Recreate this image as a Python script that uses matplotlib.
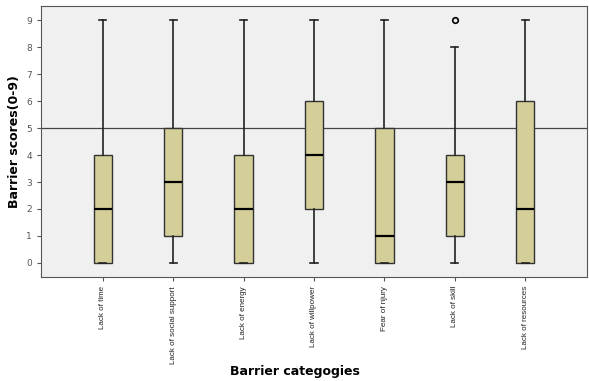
import matplotlib
matplotlib.use("Agg")
import matplotlib.pyplot as plt

categories = ["Lack of time", "Lack of social support", "Lack of energy",
              "Lack of willpower", "Fear of njury", "Lack of skill",
              "Lack of resources"]
whislo = [0, 0, 0, 0, 0, 0, 0]
q1 = [0, 1, 0, 2, 0, 1, 0]
med = [2, 3, 2, 4, 1, 3, 2]
q3 = [4, 5, 4, 6, 5, 4, 6]
whishi = [9, 9, 9, 9, 9, 8, 9]
fliers = [[], [], [], [], [], [9], []]
ref_line = 5

stats = []
for i, c in enumerate(categories):
    stats.append(dict(label=c, whislo=whislo[i], q1=q1[i], med=med[i],
                      q3=q3[i], whishi=whishi[i], fliers=fliers[i]))

fig = plt.figure(figsize=(5.89, 3.81), dpi=100)
ax = fig.add_axes([0.0696, 0.273, 0.927, 0.711])
ax.set_facecolor("#f0f0f0")

ax.bxp(stats, positions=range(1, 8), widths=0.26, patch_artist=True,
       boxprops=dict(facecolor="#d4cf98", edgecolor="#333333", linewidth=1),
       medianprops=dict(color="black", linewidth=1.6),
       whiskerprops=dict(color="#222222", linewidth=1.2),
       capprops=dict(color="#222222", linewidth=1.2),
       capwidths=0.1,
       flierprops=dict(marker="o", markersize=4, markerfacecolor="none",
                       markeredgecolor="black", markeredgewidth=1.2))
ax.axhline(ref_line, color="#444444", linewidth=0.9, zorder=0.5)

ax.set_xlim(0.12, 7.88)
ax.set_ylim(-0.52, 9.52)
ax.set_yticks(range(0, 10))
ax.tick_params(axis="y", labelsize=6.5, colors="#555555", length=3)
ax.tick_params(axis="x", length=3, colors="#555555")
ax.set_xticklabels(categories, rotation=90, fontsize=5.8,
                   family="Liberation Sans", color="#222222")
for s in ax.spines.values():
    s.set_color("#555555")

ax.set_ylabel("Barrier scores(0-9)", fontsize=9, fontweight="bold")
fig.text(0.5, 0.025, "Barrier categogies", ha="center", va="center",
         fontsize=9, fontweight="bold")

fig.savefig("out.png", dpi=100)
